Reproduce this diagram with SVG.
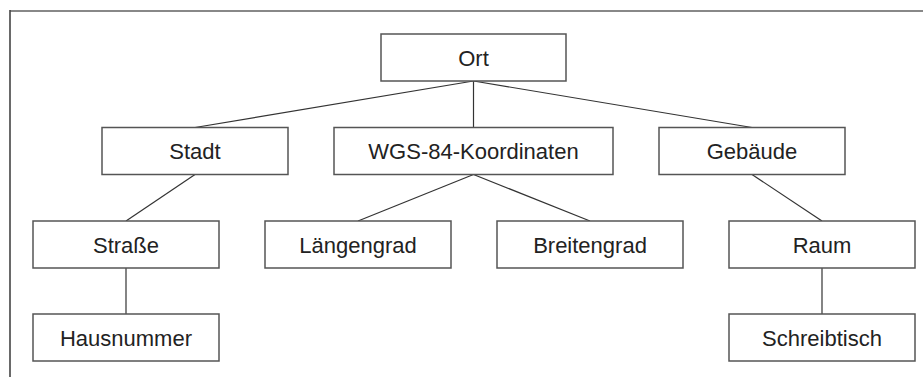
<svg xmlns="http://www.w3.org/2000/svg" width="923" height="377" viewBox="0 0 923 377">
<style>
.box{fill:#fff;stroke:#555;stroke-width:1.5}
.lbl{font-family:"Liberation Sans",Arial,sans-serif;font-size:22px;fill:#222;text-anchor:middle}
.con line{stroke:#333;stroke-width:1.2}
</style>
<rect width="923" height="377" fill="#fff"/>
<g id="frame">
<line x1="10" y1="11" x2="923" y2="11" stroke="#888" stroke-width="2"/>
<line x1="10" y1="10" x2="10" y2="377" stroke="#444" stroke-width="1.6"/>
</g>
<g id="connectors" class="con">
<line x1="473.5" y1="81" x2="195" y2="127.5"/>
<line x1="473.5" y1="81" x2="473.5" y2="127.5"/>
<line x1="473.5" y1="81" x2="752" y2="127.5"/>
<line x1="195" y1="174.5" x2="126" y2="221"/>
<line x1="473.5" y1="174.5" x2="358" y2="221"/>
<line x1="473.5" y1="174.5" x2="590" y2="221"/>
<line x1="752" y1="174.5" x2="822" y2="221"/>
<line x1="126" y1="268" x2="126" y2="314"/>
<line x1="822" y1="268" x2="822" y2="314"/>
</g>
<g id="ort"><rect class="box" x="381" y="34" width="185" height="47"/><text class="lbl" x="473.5" y="65.5">Ort</text></g>
<g id="stadt"><rect class="box" x="102" y="127.5" width="186" height="47"/><text class="lbl" x="195" y="159">Stadt</text></g>
<g id="wgs"><rect class="box" x="334" y="127.5" width="279" height="47"/><text class="lbl" x="473.5" y="159">WGS-84-Koordinaten</text></g>
<g id="gebaeude"><rect class="box" x="659" y="127.5" width="186" height="47"/><text class="lbl" x="752" y="159">Gebäude</text></g>
<g id="strasse"><rect class="box" x="33" y="221" width="186" height="47"/><text class="lbl" x="126" y="252.5">Straße</text></g>
<g id="laengengrad"><rect class="box" x="265" y="221" width="186" height="47"/><text class="lbl" x="358" y="252.5">Längengrad</text></g>
<g id="breitengrad"><rect class="box" x="497" y="221" width="186" height="47"/><text class="lbl" x="590" y="252.5">Breitengrad</text></g>
<g id="raum"><rect class="box" x="729" y="221" width="186" height="47"/><text class="lbl" x="822" y="252.5">Raum</text></g>
<g id="hausnummer"><rect class="box" x="33" y="314" width="186" height="47"/><text class="lbl" x="126" y="345.5">Hausnummer</text></g>
<g id="schreibtisch"><rect class="box" x="729" y="314" width="186" height="47"/><text class="lbl" x="822" y="345.5">Schreibtisch</text></g>
</svg>
